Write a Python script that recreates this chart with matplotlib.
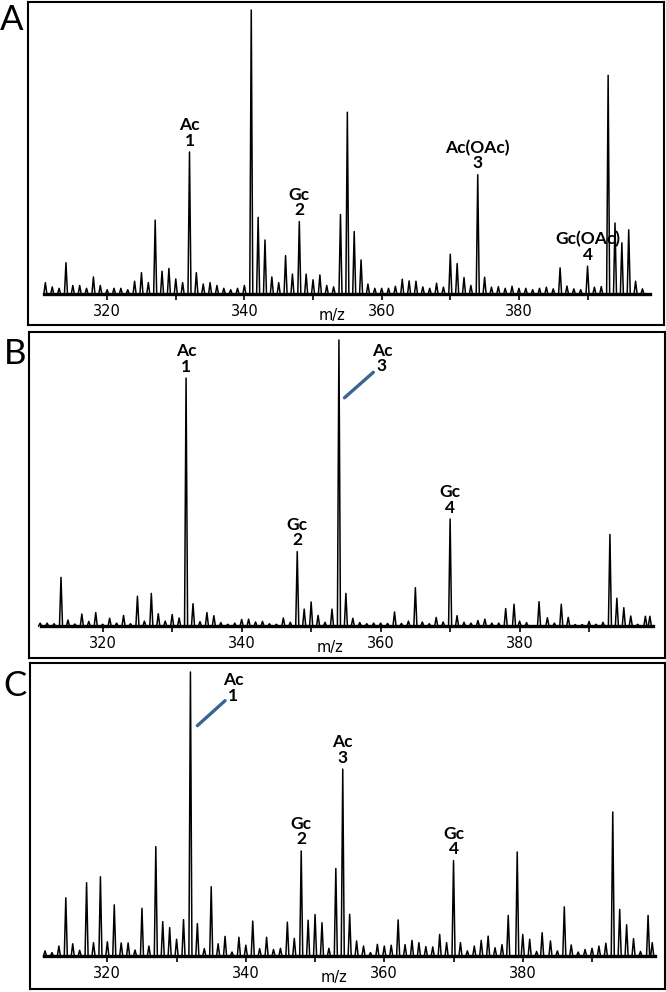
import matplotlib
matplotlib.use("Agg")
import matplotlib.pyplot as plt

# --- spectrum A: m/z and relative intensity (%) ---
mz_a = [311, 312, 313, 314, 315, 316, 317, 318, 319, 320, 321, 322, 323, 324, 325,
        326, 327, 328, 329, 330, 331, 332, 333, 334, 335, 336, 337, 338, 339, 340,
        341, 342, 343, 344, 345, 346, 347, 348, 349, 350, 351, 352, 353, 354, 355,
        356, 357, 358, 359, 360, 361, 362, 363, 364, 365, 366, 367, 368, 369, 370,
        371, 372, 373, 374, 375, 376, 377, 378, 379, 380, 381, 382, 383, 384, 385,
        386, 387, 388, 389, 390, 391, 392, 393, 394, 395, 396, 397, 398]
int_a = [4, 2.5, 2, 11, 3, 3, 2, 6, 3, 1.5, 2, 2, 1.5, 4.5, 7.5,
         4, 26, 8, 9, 5.3, 4, 50, 7.5, 3.5, 4, 3, 2, 1.5, 2, 3,
         100, 27, 19, 6, 4, 13.5, 7, 25.5, 7, 5, 6.7, 3, 2.5, 28, 64,
         22, 12, 3.5, 2, 2, 2, 2.7, 5.2, 4.6, 4.5, 2.5, 2, 3.8, 2.4, 14,
         10.7, 5.8, 3, 42, 5.9, 2.4, 2.6, 2, 2.7, 2, 2, 1.5, 2, 2.4, 1.8,
         9.2, 2.8, 1.8, 1.5, 9.8, 2.4, 2.6, 77, 25, 18, 22.6, 4.5, 1.8]

# --- spectrum B ---
mz_b = [311, 312, 313, 314, 315, 316, 317, 318, 319, 320, 321, 322, 323, 324, 325,
        326, 327, 328, 329, 330, 331, 332, 333, 334, 335, 336, 337, 338, 339, 340,
        341, 342, 343, 344, 345, 346, 347, 348, 349, 350, 351, 352, 353, 354, 355,
        356, 357, 358, 359, 360, 361, 362, 363, 364, 365, 366, 367, 368, 369, 370,
        371, 372, 373, 374, 375, 376, 377, 378, 379.2, 380, 381, 382.8, 384, 385,
        386, 387, 388, 389, 390, 391, 392, 393, 394, 395, 396, 397, 398.1, 398.75]
int_b = [1, 1, 0.8, 17, 2.1, 0.7, 4.2, 1.6, 4.7, 0.6, 2.7, 1, 3.7, 0.8, 10.4,
         1.7, 11.4, 4.3, 1.7, 4, 2.8, 86.7, 7.8, 1.5, 4.7, 3.6, 1.2, 0.6, 1, 2.3,
         2.4, 1.4, 1.6, 0.8, 0.6, 2.8, 1.3, 26, 5.9, 8.4, 3.7, 1.3, 5.9, 100, 11.4,
         2.7, 1.2, 0.8, 1, 1, 0.9, 4.9, 0.9, 1.7, 13.4, 1.4, 0.8, 3, 1.4, 37.4,
         3.6, 1.3, 1, 1.9, 2.4, 1, 1, 6.1, 7.6, 1.7, 1.2, 8.5, 2.9, 1,
         7.6, 3, 0.5, 0.5, 1.6, 0.6, 1.3, 32, 9.7, 6.4, 3.5, 0.6, 3.4, 3.4]

# --- spectrum C ---
mz_c = [311, 312, 313, 314, 315, 316, 317, 318, 319, 320, 321, 322, 323, 324, 325,
        326, 327, 328, 329, 330, 331, 332, 333, 334, 335, 336, 337, 338, 339, 340,
        341, 342, 343, 344, 345, 346, 347, 348, 349, 350, 351, 352, 353, 354, 355,
        356, 357, 358, 359, 360, 361, 362, 363, 364, 365, 366, 367, 368, 369, 370,
        371, 372, 373, 374, 375, 376, 377, 377.9, 379.2, 380, 381, 382, 382.8, 384, 385,
        386, 387, 388, 389, 390, 391, 392, 393, 394, 395, 396, 397, 398.1, 398.7]
int_c = [1.8, 1.2, 3.5, 20.5, 4.3, 2, 25.8, 4.7, 27.9, 5, 18, 4.6, 4.6, 2.1, 16.8,
         3.5, 38.5, 12.1, 10, 5.9, 12.8, 100, 11.4, 2.6, 24.4, 4.3, 6.9, 1.4, 6.6, 3.8,
         12.3, 2.6, 6.6, 2.3, 2.7, 11.9, 6.2, 37, 12.6, 14.6, 11.7, 2.7, 30.8, 65.8, 14.7,
         5.3, 3.5, 1.2, 4.1, 3.5, 3.8, 12.7, 4, 5.5, 4.7, 3.3, 3.2, 7.6, 4.7, 33.6,
         4.7, 1.8, 3.5, 5.5, 7, 2.9, 4, 14.3, 36.6, 7.6, 5.9, 1.6, 8.2, 5.3, 1.8,
         17.3, 3.9, 1.4, 2.3, 2.7, 3.5, 4.5, 50.7, 16.4, 11, 6.1, 1.6, 14.3, 4.7]

# peak labels: (m/z, text)
labels_a = [(332, "Ac\n1"), (348, "Gc\n2"), (374, "Ac(OAc)\n3"), (390, "Gc(OAc)\n4")]
labels_b = [(332, "Ac\n1"), (348, "Gc\n2"), (370, "Gc\n4")]
labels_c = [(348, "Gc\n2"), (354, "Ac\n3"), (370, "Gc\n4")]

W, H = 666, 992
fig = plt.figure(figsize=(W / 100, H / 100), dpi=100)


def rect(x0, y0, x1, y1):
    return [x0 / W, 1 - y1 / H, (x1 - x0) / W, (y1 - y0) / H]


def peak_trace(mz, inten, w=0.22):
    xs, ys = [], []
    for m, h in zip(mz, inten):
        xs += [m - w, m, m + w]
        ys += [0, h, 0]
    return xs, ys


def panel(letter, box, inner, xlim, mz, inten, labels, letter_xy):
    outer = fig.add_axes(rect(*box))
    outer.set_xticks([])
    outer.set_yticks([])
    for s in outer.spines.values():
        s.set_linewidth(1.5)
    fig.text(letter_xy[0] / W, 1 - letter_xy[1] / H, letter, fontsize=25,
             family="Lato", ha="center", va="center")

    ax = fig.add_axes(rect(*inner))
    ax.patch.set_alpha(0)
    xs, ys = peak_trace(mz, inten)
    ax.plot(xs, ys, color="black", lw=1.1, clip_on=False)
    ax.set_xlim(*xlim)
    ax.set_ylim(0, 100)
    for side in ["top", "right", "left"]:
        ax.spines[side].set_visible(False)
    ax.spines["bottom"].set_linewidth(2.4)
    ax.set_yticks([])
    ax.set_xticks(range(320, 391, 10))
    ax.set_xticklabels(["320", "", "340", "", "360", "", "380", ""])
    ax.tick_params(axis="x", direction="out", length=4, width=1.2, pad=3.5,
                   labelsize=10.5)
    ax.annotate("m/z", xy=(352.7, 0), xycoords=("data", "axes fraction"),
                xytext=(0, -15.5), textcoords="offset points",
                ha="center", va="center", fontsize=10.5)
    heights = dict(zip(mz, inten))
    for m, txt in labels:
        ax.annotate(txt, xy=(m, heights[m]), xytext=(0, 2.5),
                    textcoords="offset points", ha="center", va="bottom",
                    multialignment="center", fontsize=12.5, fontweight="bold",
                    family="Lato", linespacing=0.95)
    return ax


ax_a = panel("A", (27.7, 2, 664.5, 324.7), (44, 10, 650, 294), (310.8, 399.1),
             mz_a, int_a, labels_a, (11.5, 20))
ax_b = panel("B", (29.3, 332.3, 664.5, 658), (40.5, 340, 653, 626), (311.05, 399.2),
             mz_b, int_b, labels_b, (15.5, 354))
ax_c = panel("C", (30, 663, 664.5, 989), (44, 672, 655, 956), (310.85, 399.1),
             mz_c, int_c, labels_c, (15, 686))

# labels with blue connector lines
blue = "#3b6591"
ax_b.annotate("", xy=(354.8, 79.8), xytext=(358.95, 88.7),
              arrowprops=dict(arrowstyle="-", color=blue, lw=2.4,
                              shrinkA=0, shrinkB=0))
ax_b.text(360.2, 88.0, "Ac\n3", ha="center", va="bottom", multialignment="center",
          fontsize=12.5, fontweight="bold", family="Lato", linespacing=0.95)
ax_c.annotate("", xy=(333.0, 81.1), xytext=(337.0, 89.9),
              arrowprops=dict(arrowstyle="-", color=blue, lw=2.4,
                              shrinkA=0, shrinkB=0))
ax_c.text(338.2, 88.8, "Ac\n1", ha="center", va="bottom", multialignment="center",
          fontsize=12.5, fontweight="bold", family="Lato", linespacing=0.95)

fig.savefig("out.png", dpi=100)
